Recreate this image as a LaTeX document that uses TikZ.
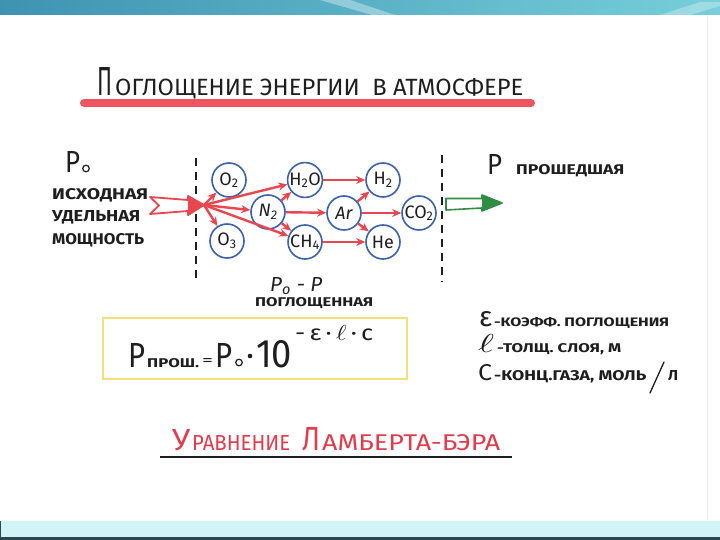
\documentclass[tikz,border=0pt]{standalone}
\usepackage{fontspec}
\usepackage{graphicx}
\setmainfont{Fira Sans}
\usetikzlibrary{arrows.meta}
\definecolor{redarr}{HTML}{E8474F}
\definecolor{redline}{HTML}{EE5560}
\definecolor{titlered}{HTML}{E03C4C}
\definecolor{gasblue}{HTML}{3A62AE}
\definecolor{greenarr}{HTML}{2F8C45}
\definecolor{boxyellow}{HTML}{F2E07A}
\definecolor{bandL}{HTML}{3E93B3}
\definecolor{bandR}{HTML}{76CFD9}
\definecolor{footcyan}{HTML}{D3F4F6}
\definecolor{footdark}{HTML}{2C4853}
\definecolor{ink}{HTML}{1E1E1E}
\newcommand\fitbox[3]{\resizebox{#1pt}{#2pt}{#3}}
\begin{document}
\begin{tikzpicture}[x=1pt,y=-1pt,
  txt/.style={inner sep=0pt, anchor=base west, text=ink},
  gas/.style={circle, draw=gasblue, line width=1.6pt, minimum size=34pt, inner sep=0pt, text=ink,
              font=\fontsize{18}{18}\selectfont\mdseries},
  flow/.style={draw=redarr, line width=2.4pt, -{Stealth[length=9pt,width=8pt]}},
  divider/.style={draw=ink, line width=1.8pt, dash pattern=on 8pt off 6pt}]
\useasboundingbox (0,0) rectangle (720,540);
\fill[white] (0,0) rectangle (720,540);
% top band
\shade[left color=bandL, right color=bandR] (0,0) rectangle (720,15);
\fill[white, opacity=0.35] (320,0) -- (350,0) -- (395,15) -- (372,15) -- cycle;
\fill[white, opacity=0.3] (660,15) -- (700,2) -- (720,2) -- (720,6) -- (690,15) -- cycle;
% right faint edge
\draw[black!8, line width=0.8pt] (707,15) -- (707,520);
% footer
\fill[footcyan] (0,521) rectangle (720,537);
\fill[footdark] (0,537) rectangle (720,540);
\fill[footdark] (0,521) rectangle (1.2,540);

% title
\node[txt] (t1) at (97,96) {\fitbox{15}{28}{П}};
\node[txt] (t2) at (115,96) {\fitbox{408}{17}{ОГЛОЩЕНИЕ ЭНЕРГИИ \ В АТМОСФЕРЕ}};
\draw[redline, line width=8pt, line cap=round] (84,103) -- (531,103);

% left labels
\node[txt] (p0) at (65,173) {\fitbox{15}{21}{P}};
\draw[ink, line width=1.2pt] (86,168.5) circle (3.3);
\node[txt] (l1) at (52,200) {\fitbox{96}{11}{\bfseries ИСХОДНАЯ}};
\node[txt] (l2) at (52,222) {\fitbox{88}{11}{\bfseries УДЕЛЬНАЯ}};
\node[txt] (l3) at (52,244) {\fitbox{92}{11}{\bfseries МОЩНОСТЬ}};

% dividers
\draw[divider] (196,158) -- (196,282);
\draw[divider] (442,155) -- (442,282);

% gas nodes
\node[gas] (O2) at (229,180) {O\textsubscript{2}};
\node[gas] (O3) at (227,241) {O\textsubscript{3}};
\node[gas] (N2) at (268,212) {\itshape N\textsubscript{2}};
\node[gas] (H2O) at (305,180) {H\textsubscript{2}O};
\node[gas] (CH4) at (305,242) {CH\textsubscript{4}};
\node[gas] (Ar) at (344,213) {\itshape Ar};
\node[gas] (H2) at (383,180) {H\textsubscript{2}};
\node[gas] (He) at (383,242) {He};
\node[gas] (CO2) at (419,213) {CO\textsubscript{2}};

% incoming hollow arrow
\coordinate (src) at (204,205);
\draw[redarr, line width=1.8pt, fill=white, line join=round]
  (150,197) -- (188,200) -- (188,196) -- (src) -- (188,215) -- (188,211) -- (150,214) -- (159,205.5) -- cycle;
\fill[redarr] (188,196) -- (src) -- (188,215) -- cycle;

% fan
\draw[flow] (src) -- (O2);
\draw[flow] (src) -- (O3);
\draw[flow] (src) -- (N2);
\draw[flow] (src) -- (H2O);
\draw[flow] (src) -- (CH4);
\draw[flow] (N2) -- (H2O);
\draw[flow] (N2) -- (Ar);
\draw[flow] (N2) -- (CH4);
\draw[flow] (H2O) -- (H2);
\draw[flow] (CH4) -- (He);
\draw[flow] (Ar) -- (H2);
\draw[flow] (Ar) -- (CO2);
\draw[flow] (Ar) -- (He);

% outgoing green arrow
\coordinate (gout) at (502,203);
\draw[greenarr, line width=1.6pt, fill=white, line join=round]
  (446,198.5) -- (482,198.5) -- (482,195) -- (gout) -- (482,211) -- (482,208) -- (446,210) -- cycle;
\fill[greenarr] (482,195) -- (gout) -- (482,211) -- cycle;

% P passed
\node[txt] (pp) at (487,175) {\fitbox{15}{20}{P}};
\node[txt] (pp2) at (516,175) {\fitbox{108}{10}{\bfseries ПРОШЕДШАЯ}};

% absorbed
\node[txt] (pa) at (270,291) {\fitbox{52}{14}{\itshape P\textsubscript{o} - P}};
\node[txt] (pa2) at (255,306) {\fitbox{118}{9}{\bfseries ПОГЛОЩЕННАЯ}};

% formula box
\draw[boxyellow, line width=1.2pt] (103,318) rectangle (407,379);
\node[txt] (f1) at (128,367) {\fitbox{17}{24}{P}};
\node[txt] (f2) at (147,367) {\fitbox{52}{9}{\bfseries ПРОШ.}};
\node[txt] (f3) at (202,365) {\fitbox{11}{7}{=}};
\node[txt] (f4) at (215,367) {\fitbox{17}{24}{P}};
\draw[ink, line width=1.2pt] (239,362.5) circle (3.3);
\fill[ink] (250,356) circle (2.3);
\node[txt] (f5) at (256,367) {\fitbox{36}{27}{10}};
\node[txt] (f6) at (295,340) {\fitbox{78}{15}{-\,ε\,·\,$\ell$\,·\,c}};

% legend
\node[txt] (g1) at (479,326) {\fitbox{13}{15}{ε}};
\node[txt] (g1b) at (494,326) {\fitbox{175}{9}{\bfseries -КОЭФФ. ПОГЛОЩЕНИЯ}};
\node[txt] (g2) at (478,352) {\fitbox{16}{18}{$\ell$}};
\node[txt] (g2b) at (497,352) {\fitbox{124}{9}{\bfseries -ТОЛЩ. СЛОЯ, М}};
\node[txt] (g3) at (478,380) {\fitbox{14}{16}{C}};
\node[txt] (g3b) at (494,380) {\fitbox{152}{10}{\bfseries -КОНЦ.ГАЗА, МОЛЬ}};
\draw[ink, line width=1.3pt, line cap=round] (664,362) -- (650,393);
\node[txt] (g3c) at (668,380) {\fitbox{10}{10}{\bfseries Л}};

% bottom title
\node[txt, text=titlered] (b1) at (172,450) {\fitbox{18}{21}{У}};
\node[txt, text=titlered] (b2) at (192,450) {\fitbox{98}{15}{РАВНЕНИЕ}};
\node[txt, text=titlered] (b3) at (302,450) {\fitbox{18}{23}{Л}};
\node[txt, text=titlered] (b4) at (322,450) {\fitbox{178}{16}{АМБЕРТА-БЭРА}};
\draw[ink, line width=1.6pt] (160,457) -- (512,457);
\end{tikzpicture}
\end{document}
